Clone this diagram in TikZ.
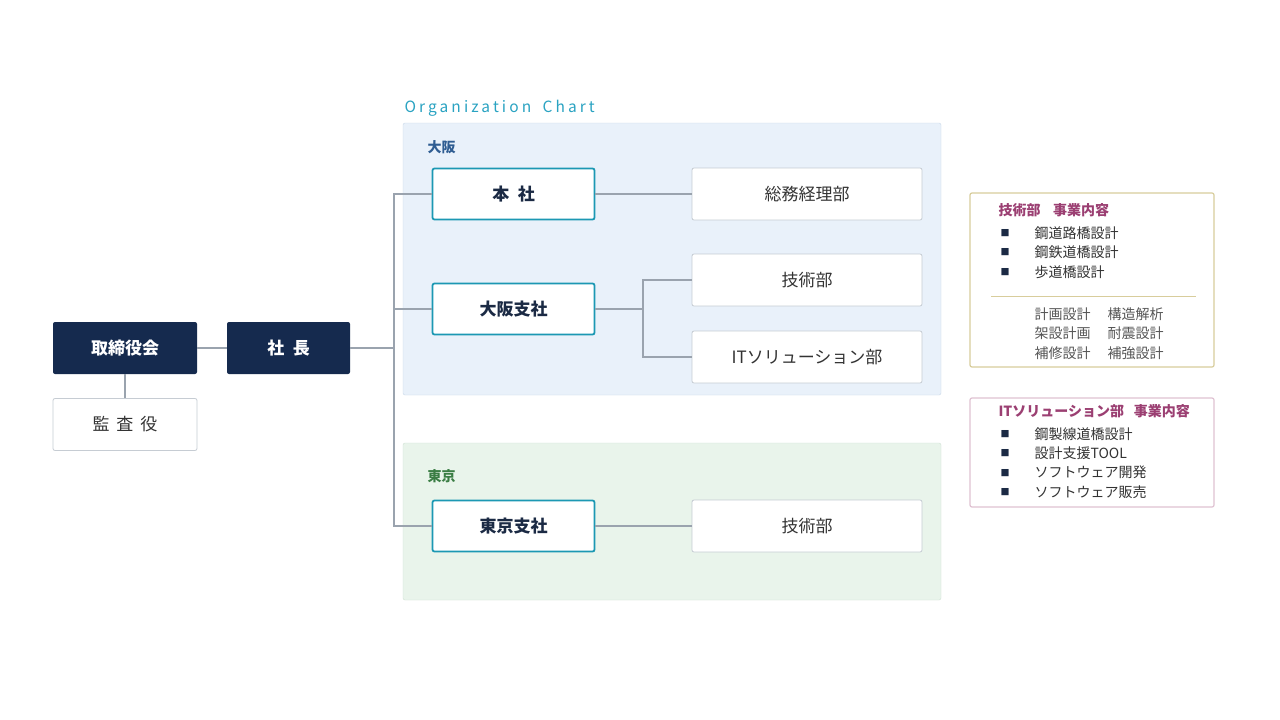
\documentclass[tikz,border=0pt]{standalone}
\usepackage{fontspec}
\setmainfont{Noto Sans CJK JP}
\usepackage{xcolor}
\usepackage{tikz}
\usetikzlibrary{positioning}

\definecolor{cnavy}{HTML}{152A4E}
\definecolor{cteal}{HTML}{1C98B3}
\definecolor{ctitle}{HTML}{2AA3C2}
\definecolor{cline}{HTML}{9AA3AE}
\definecolor{cbox}{HTML}{C6CCD3}
\definecolor{cdark}{HTML}{1B2A44}
\definecolor{ctext}{HTML}{333333}
\definecolor{cgrid}{HTML}{555555}
\definecolor{cosaka}{HTML}{2F5D92}
\definecolor{cosakafill}{HTML}{E9F1FA}
\definecolor{cosakaline}{HTML}{C9D9E9}
\definecolor{ctokyo}{HTML}{3A7D44}
\definecolor{ctokyofill}{HTML}{E9F4EB}
\definecolor{ctokyoline}{HTML}{CFE1D4}
\definecolor{cgold}{HTML}{D8CD9C}
\definecolor{cpink}{HTML}{E0C2D2}
\definecolor{cmagenta}{HTML}{9B3F72}

\begin{document}
\begin{tikzpicture}[x=1pt,y=-1pt,
                    conn/.style = {draw=cline, line width=2pt},
                    exec/.style = {fill=cnavy, text=white, rounded corners=2pt,
                                   minimum width=144pt, minimum height=52pt,
                                   font=\fontsize{17}{19}\selectfont\bfseries},
                    branch/.style = {draw=cteal, line width=1.8pt, fill=white, rounded corners=2pt,
                                     minimum width=162pt, minimum height=51pt, text=cdark,
                                     font=\fontsize{17}{19}\selectfont\bfseries},
                    dept/.style = {draw=cbox, line width=0.8pt, fill=white, rounded corners=2pt,
                                   minimum width=230pt, minimum height=52pt, text=ctext,
                                   font=\fontsize{17}{19}\selectfont},
                    area/.style = {anchor=west, font=\fontsize{14}{16}\selectfont\bfseries},
                    bullet/.style = {anchor=center, text=cdark, font=\fontsize{9}{10}\selectfont},
                    item/.style = {anchor=west, text=ctext, font=\fontsize{14}{16}\selectfont},
                    head/.style = {anchor=west, text=cmagenta, font=\fontsize{14}{16}\selectfont\bfseries}]
    \useasboundingbox[fill=white] (0,0) rectangle (1280,720);

    % regions
    \draw[fill=cosakafill, draw=cosakaline, rounded corners=2pt] (403,123) rectangle (941,395);
    \draw[fill=ctokyofill, draw=ctokyoline, rounded corners=2pt] (403,443) rectangle (941,600);
    \node[anchor=west, text=ctitle, font=\fontsize{15.5}{17}\selectfont] (ltitle) at (401,108)
        {\addfontfeature{LetterSpace=20}Organization\hspace{0.3em} Chart};
    \node[area, text=cosaka] (losaka) at (424,147) {大阪};
    \node[area, text=ctokyo] (ltokyo) at (424,476) {東京};

    % top
    \node[exec] (nboard) at (125,348) {取締役会};
    \node[exec, minimum width=123pt] (npres) at (288.5,348) {社\hspace{0.5em}長};
    \node[dept, minimum width=144pt] (naudit) at (125,424.5) {監\hspace{0.4em}査\hspace{0.4em}役};

    % osaka
    \node[branch] (nhq) at (513.5,194) {本\hspace{0.5em}社};
    \node[dept] (ngen) at (807,194) {総務経理部};
    \node[branch] (nosaka) at (513.5,309) {大阪支社};
    \node[dept] (ntech) at (807,280) {技術部};
    \node[dept] (nit) at (807,357) {ITソリューション部};

    % tokyo
    \node[branch] (ntokyo) at (513.5,526) {東京支社};
    \node[dept] (ntech2) at (807,526) {技術部};

    % connectors
    \coordinate (nspine) at (394,348);
    \coordinate (nfork) at (643,309);
    \draw[conn] (nboard) -- (npres);
    \draw[conn] (nboard) -- (naudit);
    \draw[conn] (npres.east) -- (nspine);
    \draw[conn] (nhq.west) -| (nspine) |- (ntokyo.west);
    \draw[conn] (nosaka.west) -- (nosaka.west -| nspine);
    \draw[conn] (nhq) -- (ngen);
    \draw[conn] (ntokyo) -- (ntech2);
    \draw[conn] (nosaka.east) -- (nfork);
    \draw[conn] (ntech.west) -| (nfork) |- (nit.west);

    % business contents
    \draw[draw=cgold, line width=1.2pt, fill=white, rounded corners=2pt] (970,193) rectangle (1214,367);
    \node[head] (htech) at (995,210) {技術部\hspace{0.9em}事業内容};
    \foreach \t [count=\i] in {鋼道路橋設計,鋼鉄道橋設計,歩道橋設計} {
        \node[bullet] (bt\i) at (1005,213.5+19.5*\i) {■};
        \node[item] (it\i) at (1031,213.5+19.5*\i) {\t};
    }
    \draw[draw=cgold] (991,296) -- (1196,296);
    \node[item, text=cgrid] (ga) at (1031,314) {計画設計};
    \node[item, text=cgrid] (gb) at (1104,314) {構造解析};
    \node[item, text=cgrid] (gc) at (1031,333.5) {架設計画};
    \node[item, text=cgrid] (gd) at (1104,333.5) {耐震設計};
    \node[item, text=cgrid] (ge) at (1031,353) {補修設計};
    \node[item, text=cgrid] (gf) at (1104,353) {補強設計};

    \draw[draw=cpink, line width=1.2pt, fill=white, rounded corners=2pt] (970,398) rectangle (1214,507);
    \node[head] (hit) at (995,411) {ITソリューション部\hspace{0.7em}事業内容};
    \foreach \t [count=\i] in {鋼製線道橋設計,設計支援TOOL,ソフトウェア開発,ソフトウェア販売} {
        \node[bullet] (bi\i) at (1005,414.5+19.4*\i) {■};
        \node[item] (ii\i) at (1031,414.5+19.4*\i) {\t};
    }
\end{tikzpicture}
\end{document}
